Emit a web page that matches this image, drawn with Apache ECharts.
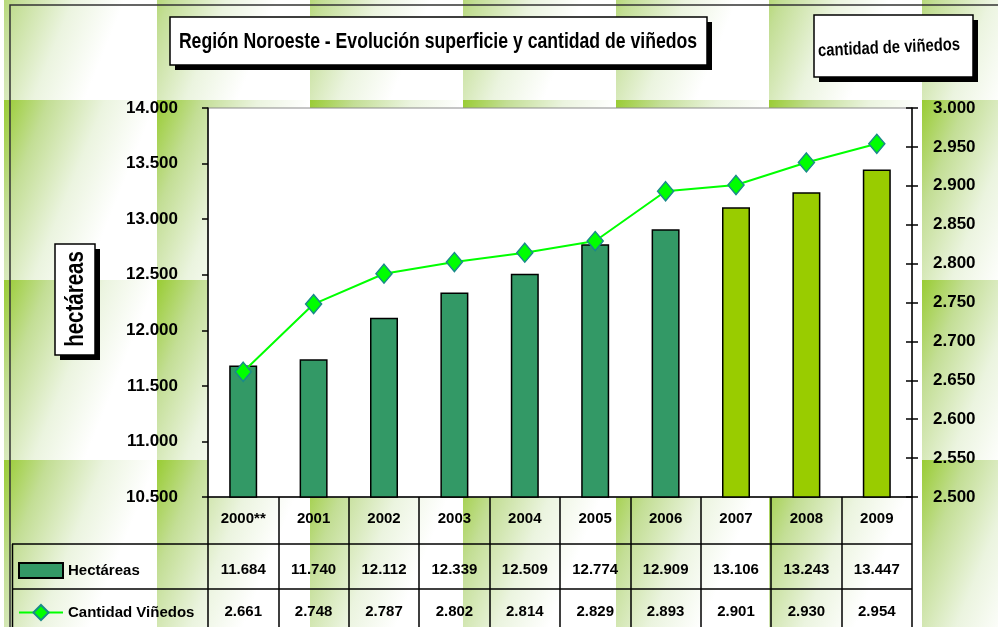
<!DOCTYPE html>
<html>
<head>
<meta charset="utf-8">
<title>Región Noroeste - Evolución superficie y cantidad de viñedos</title>
<script src="https://cdn.jsdelivr.net/npm/echarts@6/dist/echarts.min.js"></script>
<style>
  html, body { margin: 0; padding: 0; background: #fff; }
  #chart {
    width: 998px;
    height: 627px;
    background-color: #fff;
    background-image: linear-gradient(112deg, #9c3 0%, #c3de95 20%, #ebf4df 45%, #fff 68%);
    background-size: 153px 180px;
    background-position: 4px -80px;
  }
</style>
</head>
<body>
<div id="chart"></div>
<script>
const years = ['2000**', '2001', '2002', '2003', '2004', '2005', '2006', '2007', '2008', '2009']
const hectareas = [11684, 11740, 12112, 12339, 12509, 12774, 12909, 13106, 13243, 13447]
const vinedos = [2661, 2748, 2787, 2802, 2814, 2829, 2893, 2901, 2930, 2954]
// last three years drawn in the lighter green
const lightFrom = 7

const FONT = "'Liberation Sans Narrow', 'Arial Narrow', 'Liberation Sans', Arial, sans-serif"
// graphic texts are squeezed to look like the narrow face of the original
const NARROW = 0.82
const GRID_LEFT = 208
const GRID_TOP = 108
const GRID_RIGHT = 912
const GRID_BOTTOM = 497
const ROW1 = 544
const ROW2 = 589

const fmt = v => String(v).replace(/\B(?=(\d{3})+(?!\d))/g, '.')

const chart = echarts.init(document.getElementById('chart'))

const label = (size) => ({
  color: '#000',
  fontFamily: FONT,
  fontWeight: 'bold',
  fontSize: size
})

chart.setOption({
  animation: false,
  backgroundColor: 'transparent',
  grid: {
    left: GRID_LEFT,
    top: GRID_TOP,
    width: GRID_RIGHT - GRID_LEFT,
    height: GRID_BOTTOM - GRID_TOP,
    show: true,
    backgroundColor: '#fff',
    borderColor: '#8c8c8c',
    borderWidth: 1
  },
  legend: [
    {
      left: 18,
      top: 562,
      padding: 0,
      itemWidth: 44,
      itemHeight: 15,
      textStyle: label(15),
      data: [{ name: 'Hectáreas', icon: 'rect' }]
    },
    {
      left: 18,
      top: 604,
      padding: 0,
      itemWidth: 44,
      itemHeight: 19,
      textStyle: label(15),
      data: [{ name: 'Cantidad Viñedos' }]
    }
  ],
  xAxis: [
    {
      type: 'category',
      position: 'bottom',
      data: years,
      axisLine: { lineStyle: { color: '#000', width: 1.5 } },
      axisTick: { show: true, length: 130, interval: 0, lineStyle: { color: '#000', width: 1.5 } },
      axisLabel: Object.assign(label(15), { interval: 0, margin: 22, verticalAlign: 'middle' })
    },
    {
      type: 'category',
      position: 'bottom',
      data: hectareas.map(fmt),
      axisLine: { show: false },
      axisTick: { show: false },
      axisLabel: Object.assign(label(15), { interval: 0, margin: 73, verticalAlign: 'middle' })
    },
    {
      type: 'category',
      position: 'bottom',
      data: vinedos.map(fmt),
      axisLine: { show: false },
      axisTick: { show: false },
      axisLabel: Object.assign(label(15), { interval: 0, margin: 115, verticalAlign: 'middle' })
    }
  ],
  yAxis: [
    {
      type: 'value',
      min: 10500,
      max: 14000,
      interval: 500,
      axisLine: { show: true, lineStyle: { color: '#000', width: 1.5 } },
      axisTick: { show: true, length: 6, lineStyle: { color: '#000', width: 1.5 } },
      splitLine: { show: false },
      axisLabel: Object.assign(label(17), { margin: 30, formatter: fmt })
    },
    {
      type: 'value',
      position: 'right',
      min: 2500,
      max: 3000,
      interval: 50,
      axisLine: { show: true, lineStyle: { color: '#000', width: 1.5 } },
      axisTick: { show: true, length: 6, lineStyle: { color: '#000', width: 1.5 } },
      splitLine: { show: false },
      axisLabel: Object.assign(label(17), { margin: 21, formatter: fmt })
    },
    {
      // inner half of the crossing ticks on the right axis
      type: 'value',
      position: 'right',
      min: 2500,
      max: 3000,
      interval: 50,
      axisLine: { show: false },
      axisTick: { show: true, inside: true, length: 6, lineStyle: { color: '#000', width: 1.5 } },
      splitLine: { show: false },
      axisLabel: { show: false }
    }
  ],
  series: [
    {
      name: 'Hectáreas',
      type: 'bar',
      yAxisIndex: 0,
      barWidth: 28,
      itemStyle: { color: '#339966', borderColor: '#000', borderWidth: 1.5 },
      data: hectareas.map((v, i) => i >= lightFrom ? { value: v, itemStyle: { color: '#99cc00' } } : v)
    },
    {
      name: 'Cantidad Viñedos',
      type: 'line',
      yAxisIndex: 1,
      symbol: 'diamond',
      symbolSize: [16, 19],
      lineStyle: { color: '#00ff00', width: 2 },
      itemStyle: { color: '#00ff00', borderColor: '#1a8a8a', borderWidth: 1.5 },
      z: 5,
      data: vinedos
    }
  ],
  graphic: [
    // outer frame
    { type: 'rect', z: 100, shape: { x: 10, y: 5, width: 1000, height: 700 }, style: { fill: 'none', stroke: '#333', lineWidth: 1.5 } },
    // data table rows on the left
    { type: 'line', z: 100, shape: { x1: 12, y1: ROW1, x2: GRID_RIGHT, y2: ROW1 }, style: { stroke: '#000', lineWidth: 1.5 } },
    { type: 'line', z: 100, shape: { x1: 12, y1: ROW2, x2: GRID_RIGHT, y2: ROW2 }, style: { stroke: '#000', lineWidth: 1.5 } },
    { type: 'line', z: 100, shape: { x1: 12.5, y1: ROW1, x2: 12.5, y2: 640 }, style: { stroke: '#000', lineWidth: 1.5 } },
    // main title box
    { type: 'rect', z: 100, shape: { x: 175, y: 22, width: 537, height: 48 }, style: { fill: '#000' } },
    { type: 'rect', z: 100, shape: { x: 170, y: 17, width: 537, height: 48 }, style: { fill: '#fff', stroke: '#000', lineWidth: 1.5 } },
    {
      type: 'text', z: 101, x: 438, y: 42, scaleX: NARROW,
      style: { text: 'Región Noroeste - Evolución superficie y cantidad de viñedos', fill: '#000', font: 'bold 21.5px ' + FONT, textAlign: 'center', textVerticalAlign: 'middle' }
    },
    // right axis name box
    { type: 'rect', z: 100, shape: { x: 819, y: 20, width: 159, height: 62 }, style: { fill: '#000' } },
    { type: 'rect', z: 100, shape: { x: 814, y: 15, width: 159, height: 62 }, style: { fill: '#fff', stroke: '#000', lineWidth: 1.5 } },
    {
      type: 'text', z: 101, x: 889, y: 48, rotation: 0.045, scaleX: NARROW,
      style: { text: 'cantidad de viñedos', fill: '#000', font: 'bold 18px ' + FONT, textAlign: 'center', textVerticalAlign: 'middle' }
    },
    // left axis name box
    { type: 'rect', z: 100, shape: { x: 60, y: 249, width: 40, height: 111 }, style: { fill: '#000' } },
    { type: 'rect', z: 100, shape: { x: 55, y: 244, width: 40, height: 111 }, style: { fill: '#fff', stroke: '#000', lineWidth: 1.5 } },
    {
      type: 'text', z: 101, x: 76, y: 299, rotation: Math.PI / 2, scaleX: NARROW,
      style: { text: 'hectáreas', fill: '#000', font: 'bold 25px ' + FONT, textAlign: 'center', textVerticalAlign: 'middle' }
    }
  ]
})
</script>
</body>
</html>
